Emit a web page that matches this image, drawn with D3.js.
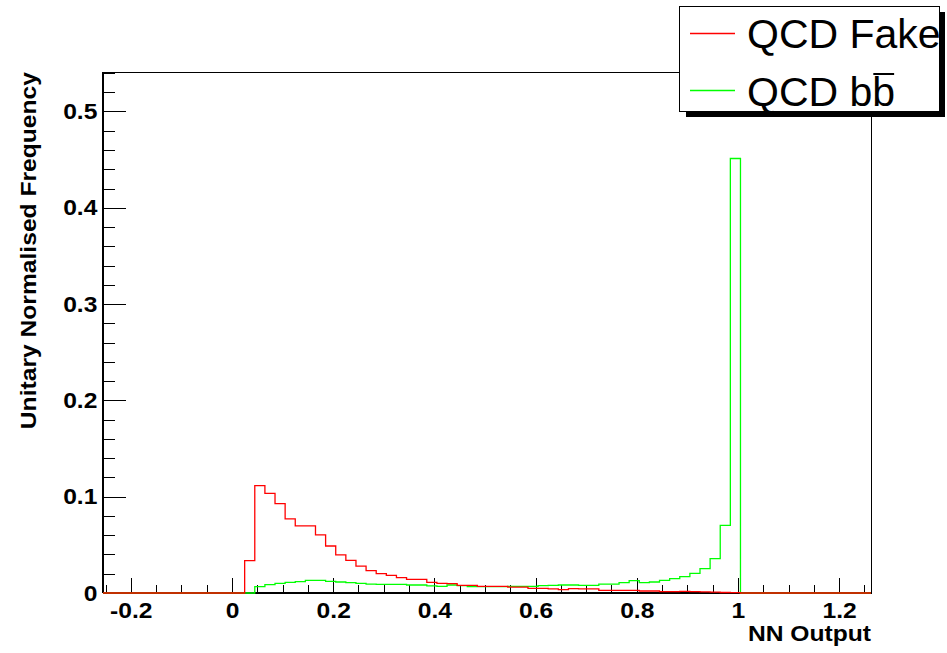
<!DOCTYPE html>
<html>
<head>
<meta charset="utf-8">
<script src="https://cdn.jsdelivr.net/npm/d3@7"></script>
<style>
  body { margin: 0; background: #fff; }
  text { font-family: "Liberation Sans", Arial, Helvetica, sans-serif; }
</style>
</head>
<body>
<div id="vis"></div>
<script>
// histogram binning (NN output), 76 bins of 0.02
var binLow = -0.255;
var binWidth = 0.02;

// QCD Fake, unit normalised
var fakeValues = [
  0, 0, 0, 0, 0, 0, 0, 0, 0, 0,
  0, 0, 0, 0, 0.0336, 0.1115, 0.1035, 0.0928, 0.0769, 0.0696,
  0.0696, 0.0603, 0.0488, 0.0395, 0.0339, 0.0280, 0.0232, 0.0201, 0.0184, 0.0159,
  0.0142, 0.0142, 0.0111, 0.0100, 0.0097, 0.0080, 0.0080, 0.0069, 0.0069, 0.0069,
  0.0062, 0.0062, 0.0048, 0.0048, 0.0042, 0.0035, 0.0045, 0.0042, 0.0042, 0.0028,
  0.0028, 0.0028, 0.0028, 0.0021, 0.0021, 0.0014, 0.0014, 0.0017, 0.0014, 0.0012,
  0.0010, 0.0005, 0.0003, 0, 0, 0, 0, 0, 0, 0,
  0, 0, 0, 0, 0, 0
];

// QCD bb, unit normalised
var bbValues = [
  0, 0, 0, 0, 0, 0, 0, 0, 0, 0,
  0, 0, 0, 0, 0, 0.0066, 0.0087, 0.0100, 0.0111, 0.0118,
  0.0132, 0.0132, 0.0121, 0.0114, 0.0107, 0.0100, 0.0093, 0.0090, 0.0090, 0.0090,
  0.0083, 0.0083, 0.0073, 0.0069, 0.0083, 0.0076, 0.0066, 0.0066, 0.0066, 0.0066,
  0.0069, 0.0069, 0.0069, 0.0076, 0.0080, 0.0083, 0.0083, 0.0080, 0.0080, 0.0093,
  0.0093, 0.0107, 0.0128, 0.0107, 0.0114, 0.0132, 0.0150, 0.0170, 0.0204, 0.0253,
  0.0357, 0.0703, 0.4512, 0, 0, 0, 0, 0, 0, 0,
  0, 0, 0, 0, 0, 0
];

var xTicks = [-0.2, 0, 0.2, 0.4, 0.6, 0.8, 1, 1.2];
var xTickLabels = ['-0.2', '0', '0.2', '0.4', '0.6', '0.8', '1', '1.2'];
var yTicks = [0, 0.1, 0.2, 0.3, 0.4, 0.5];
var yTickLabels = ['0', '0.1', '0.2', '0.3', '0.4', '0.5'];
var seriesNames = ['QCD Fake', 'QCD b'];
var seriesColors = ['#ff0000', '#00ff00'];

var width = 947;
var height = 653;
var frame = {left: 103, right: 871, top: 72, bottom: 593};
// axis text in the original is drawn a bit wide
var stretch = 'scale(1.12, 1)';

var svg = d3
  .select('#vis')
  .append('svg')
  .attr('width', width)
  .attr('height', height);

svg.append('rect').attr('width', width).attr('height', height).attr('fill', '#fff');

var x = d3.scaleLinear().domain([-0.255, 1.263]).range([frame.left, frame.right]);
var y = d3.scaleLinear().domain([0, 0.541]).range([frame.bottom, frame.top]);

svg
  .append('clipPath')
  .attr('id', 'frame-clip')
  .append('rect')
  .attr('x', frame.left)
  .attr('y', frame.top - 2)
  .attr('width', frame.right - frame.left)
  .attr('height', frame.bottom - frame.top + 3);

// frame
svg
  .append('rect')
  .attr('x', frame.left)
  .attr('y', frame.top)
  .attr('width', frame.right - frame.left)
  .attr('height', frame.bottom - frame.top)
  .attr('fill', 'none')
  .attr('stroke', '#000')
  .attr('stroke-width', 1)
  .attr('shape-rendering', 'crispEdges');

// minor ticks
var xMinor = d3.range(-0.25, 1.2601, 0.05).filter(d => Math.abs(Math.round(d * 5) - d * 5) > 1e-6);
var yMinor = d3.range(0, 0.541, 0.02);

function styleAxis(g) {
  g.select('.domain').remove();
  g.selectAll('line').attr('stroke', '#000').attr('shape-rendering', 'crispEdges');
  g.selectAll('text')
    .attr('fill', '#000')
    .attr('transform', stretch)
    .style('font-size', '22px')
    .style('font-weight', 'bold')
    .style('font-family', '"Liberation Sans", Arial, sans-serif');
}

svg
  .append('g')
  .attr('transform', `translate(0, ${frame.bottom})`)
  .call(d3.axisBottom(x).tickValues(xMinor).tickSize(-8).tickFormat(''))
  .call(styleAxis);

svg
  .append('g')
  .attr('transform', `translate(0, ${frame.bottom})`)
  .call(
    d3
      .axisBottom(x)
      .tickValues(xTicks)
      .tickSize(-15)
      .tickPadding(9)
      .tickFormat((d, i) => xTickLabels[i])
  )
  .call(styleAxis);

svg
  .append('g')
  .attr('transform', `translate(${frame.left}, 0)`)
  .call(d3.axisLeft(y).tickValues(yMinor).tickSize(-12).tickFormat(''))
  .call(styleAxis);

svg
  .append('g')
  .attr('transform', `translate(${frame.left}, 0)`)
  .call(
    d3
      .axisLeft(y)
      .tickValues(yTicks)
      .tickSize(-23)
      .tickPadding(5)
      .tickFormat((d, i) => yTickLabels[i])
  )
  .call(styleAxis);

// axis lines a touch heavier
svg
  .append('line')
  .attr('x1', frame.left)
  .attr('x2', frame.right)
  .attr('y1', frame.bottom)
  .attr('y2', frame.bottom)
  .attr('stroke', '#000')
  .attr('stroke-width', 2)
  .attr('shape-rendering', 'crispEdges');
svg
  .append('line')
  .attr('x1', frame.left)
  .attr('x2', frame.left)
  .attr('y1', frame.top)
  .attr('y2', frame.bottom)
  .attr('stroke', '#000')
  .attr('stroke-width', 1.5)
  .attr('shape-rendering', 'crispEdges');

// axis titles
svg
  .append('text')
  .attr('transform', `translate(${frame.right}, 641) ${stretch}`)
  .attr('text-anchor', 'end')
  .style('font-size', '22px')
  .style('font-weight', 'bold')
  .text('NN Output');

svg
  .append('text')
  .attr('transform', `translate(36, ${frame.top}) rotate(-90) ${stretch}`)
  .attr('text-anchor', 'end')
  .style('font-size', '22px')
  .style('font-weight', 'bold')
  .text('Unitary Normalised Frequency');

// histograms as step outlines
function histPoints(values) {
  var pts = values.map((v, k) => [binLow + k * binWidth, v]);
  pts.push([binLow + values.length * binWidth, values[values.length - 1]]);
  return pts;
}

var step = d3
  .line()
  .x(d => x(d[0]))
  .y(d => y(d[1]))
  .curve(d3.curveStepAfter);

var histos = [bbValues, fakeValues];
var histoColors = [seriesColors[1], seriesColors[0]];

svg
  .append('g')
  .attr('clip-path', 'url(#frame-clip)')
  .selectAll('path')
  .data(histos)
  .enter()
  .append('path')
  .attr('d', d => step(histPoints(d)))
  .attr('fill', 'none')
  .attr('stroke', (d, i) => histoColors[i])
  .attr('stroke-width', 1.3);

// legend
var legend = svg.append('g');
legend
  .append('rect')
  .attr('x', 686)
  .attr('y', 12)
  .attr('width', 259)
  .attr('height', 105)
  .attr('fill', '#000');
legend
  .append('rect')
  .attr('x', 679.5)
  .attr('y', 6.5)
  .attr('width', 260)
  .attr('height', 105)
  .attr('fill', '#fff')
  .attr('stroke', '#000')
  .attr('stroke-width', 1);

var rowY = [33.5, 90.5];
var rowBase = [48, 106];

seriesNames.forEach((name, i) => {
  legend
    .append('line')
    .attr('x1', 690)
    .attr('x2', 735)
    .attr('y1', rowY[i])
    .attr('y2', rowY[i])
    .attr('stroke', seriesColors[i])
    .attr('stroke-width', 1.3);
  var t = legend
    .append('text')
    .attr('x', 747)
    .attr('y', rowBase[i])
    .style('font-size', '41px')
    .text(name);
  if (i == 1) {
    // b-bar: second b with an overline
    var start = 747 + t.node().getComputedTextLength();
    var bar = legend
      .append('text')
      .attr('x', start)
      .attr('y', rowBase[i])
      .style('font-size', '41px')
      .text('b');
    var bw = bar.node().getComputedTextLength();
    legend
      .append('line')
      .attr('x1', start + 1)
      .attr('x2', start + bw - 1)
      .attr('y1', 74)
      .attr('y2', 74)
      .attr('stroke', '#000')
      .attr('stroke-width', 2);
  }
});
</script>
</body>
</html>
